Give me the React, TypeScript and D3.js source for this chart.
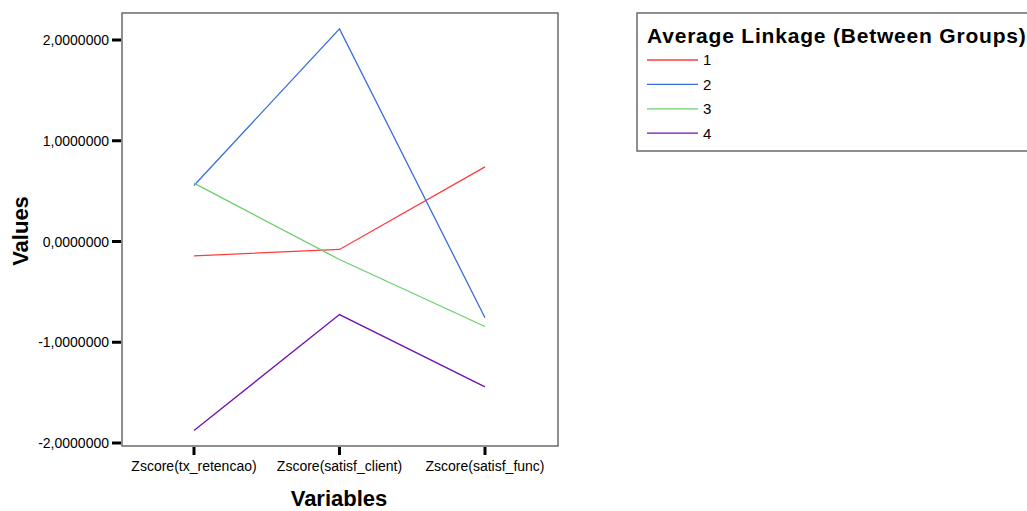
import React from "react";
import * as d3 from "d3";

const categories = ["Zscore(tx_retencao)", "Zscore(satisf_client)", "Zscore(satisf_func)"];
const seriesNames = ["1", "2", "3", "4"];
const series1 = [-0.142, -0.079, 0.741];
const series2 = [0.556, 2.11, -0.757];
const series3 = [0.579, -0.179, -0.844];
const series4 = [-1.876, -0.725, -1.443];
const yTicks = [-2, -1, 0, 1, 2];
const colors = ["#ff3b3b", "#3a6fd8", "#6ccf6c", "#7010b0"];

const W = 1027;
const H = 511;
const plot = { left: 122, top: 13, right: 558, bottom: 446 };

export default function App() {
  const data = [series1, series2, series3, series4];
  const y = d3.scaleLinear().domain([-2, 2]).range([443, 40]);
  const x = d3.scalePoint<string>().domain(categories).range([194, 485]);
  const line = d3
    .line<number>()
    .x((_, i) => x(categories[i]) as number)
    .y((d) => y(d));
  const fmt = (v: number) => v.toFixed(7).replace(".", ",");
  const font = "'Liberation Sans', Arial, sans-serif";

  return (
    <div style={{ position: "absolute", left: 0, top: 0 }}>
      <svg width={W} height={H} style={{ display: "block", fontFamily: font }}>
        <rect x={0} y={0} width={W} height={H} fill="#fff" />
        {/* plot frame */}
        <rect
          x={plot.left}
          y={plot.top}
          width={plot.right - plot.left}
          height={plot.bottom - plot.top}
          fill="#fff"
          stroke="#6a6a6a"
          strokeWidth={1.5}
        />
        {/* y ticks */}
        {yTicks.map((t) => (
          <g key={t}>
            <line x1={112} x2={121} y1={y(t)} y2={y(t)} stroke="#000" strokeWidth={3} />
            <text x={109} y={y(t)} dy="0.36em" textAnchor="end" fontSize={14} fill="#000">
              {fmt(t)}
            </text>
          </g>
        ))}
        {/* x ticks */}
        {categories.map((c) => (
          <g key={c}>
            <line x1={x(c)} x2={x(c)} y1={447} y2={455} stroke="#000" strokeWidth={3} />
            <text x={x(c)} y={471} textAnchor="middle" fontSize={14} fill="#000">
              {c}
            </text>
          </g>
        ))}
        {/* lines */}
        {data.map((s, i) => (
          <path key={i} d={line(s) || ""} fill="none" stroke={colors[i]} strokeWidth={1.3} />
        ))}
        {/* axis titles */}
        <text
          transform={`translate(27.5,231) rotate(-90)`}
          textAnchor="middle"
          fontSize={22}
          fontWeight="bold"
          fill="#000"
        >
          Values
        </text>
        <text x={339} y={506} textAnchor="middle" fontSize={22} fontWeight="bold" fill="#000">
          Variables
        </text>
        {/* legend */}
        <rect x={637} y={13} width={420} height={138} fill="#fff" stroke="#6a6a6a" strokeWidth={1.5} />
        <text x={647} y={43} fontSize={21} fontWeight="bold" letterSpacing={0.8} fill="#000">
          Average Linkage (Between Groups)
        </text>
        {seriesNames.map((n, i) => {
          const ly = 60 + i * 24.4;
          return (
            <g key={n}>
              <line x1={647} x2={698} y1={ly} y2={ly} stroke={colors[i]} strokeWidth={1.3} />
              <text x={703} y={ly} dy="0.36em" fontSize={15} fill="#000">
                {n}
              </text>
            </g>
          );
        })}
      </svg>
    </div>
  );
}
